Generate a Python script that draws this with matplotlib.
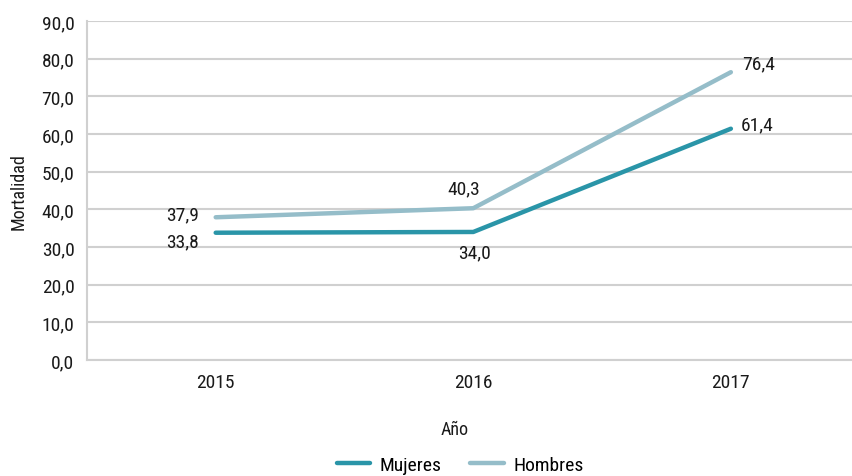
import matplotlib.pyplot as plt

years = ["2015", "2016", "2017"]
mujeres = [33.8, 34.0, 61.4]
hombres = [37.9, 40.3, 76.4]
y_ticks = [0, 10, 20, 30, 40, 50, 60, 70, 80, 90]

plt.rcParams["font.family"] = ["Roboto Condensed", "DejaVu Sans"]

C_MUJ = "#2A95A8"
C_HOM = "#95BDC9"
GRID = "#D0D0D0"
TXT = "#1a1a1a"


def fmt(v):
    return f"{v:.1f}".replace(".", ",")


fig = plt.figure(figsize=(8.52, 4.77), dpi=100)
# plot area runs slightly past the right edge, like the original export
ax = fig.add_axes([0.102, 0.243, 0.907, 0.711])

x = list(range(len(years)))
ax.plot(x, mujeres, color=C_MUJ, lw=3.2, solid_capstyle="round", label="Mujeres", zorder=3)
ax.plot(x, hombres, color=C_HOM, lw=3.2, solid_capstyle="round", label="Hombres", zorder=3)

ax.set_xlim(-0.5, 2.5)
ax.set_ylim(0, 90)
ax.set_yticks(y_ticks)
ax.set_yticklabels([fmt(v) for v in y_ticks], fontsize=14, color=TXT)
ax.set_xticks(x)
ax.set_xticklabels(years, fontsize=14, color=TXT)
ax.tick_params(length=0, pad=9)
ax.grid(axis="y", color=GRID, lw=1.5)
ax.set_axisbelow(True)
for s in ["top", "right"]:
    ax.spines[s].set_visible(False)
for s in ["left", "bottom"]:
    ax.spines[s].set_color(GRID)
    ax.spines[s].set_linewidth(1.5)

# data labels
lab_fs = 14
ax.annotate(fmt(hombres[0]), (0, hombres[0]), xytext=(-12, 2), textcoords="offset points",
            ha="right", va="center", fontsize=lab_fs, color=TXT)
ax.annotate(fmt(mujeres[0]), (0, mujeres[0]), xytext=(-12, -6), textcoords="offset points",
            ha="right", va="center", fontsize=lab_fs, color=TXT)
ax.annotate(fmt(hombres[1]), (1, hombres[1]), xytext=(-7, 14), textcoords="offset points",
            ha="center", va="center", fontsize=lab_fs, color=TXT)
ax.annotate(fmt(mujeres[1]), (1, mujeres[1]), xytext=(1, -15), textcoords="offset points",
            ha="center", va="center", fontsize=lab_fs, color=TXT)
ax.annotate(fmt(hombres[2]), (2, hombres[2]), xytext=(8, 6), textcoords="offset points",
            ha="left", va="center", fontsize=lab_fs, color=TXT)
ax.annotate(fmt(mujeres[2]), (2, mujeres[2]), xytext=(7, 3), textcoords="offset points",
            ha="left", va="center", fontsize=lab_fs, color=TXT)

ax.set_ylabel("Mortalidad", fontsize=13, labelpad=10, color=TXT)
ax.set_xlabel("Año", fontsize=13, color=TXT)
ax.xaxis.set_label_coords(0.476, -0.178)

leg = fig.legend(loc="center", bbox_to_anchor=(0.540, 0.023), ncol=2, frameon=False,
                 fontsize=14, handlelength=1.7, handletextpad=0.5, columnspacing=1.5)

fig.savefig("out.png", dpi=100)
